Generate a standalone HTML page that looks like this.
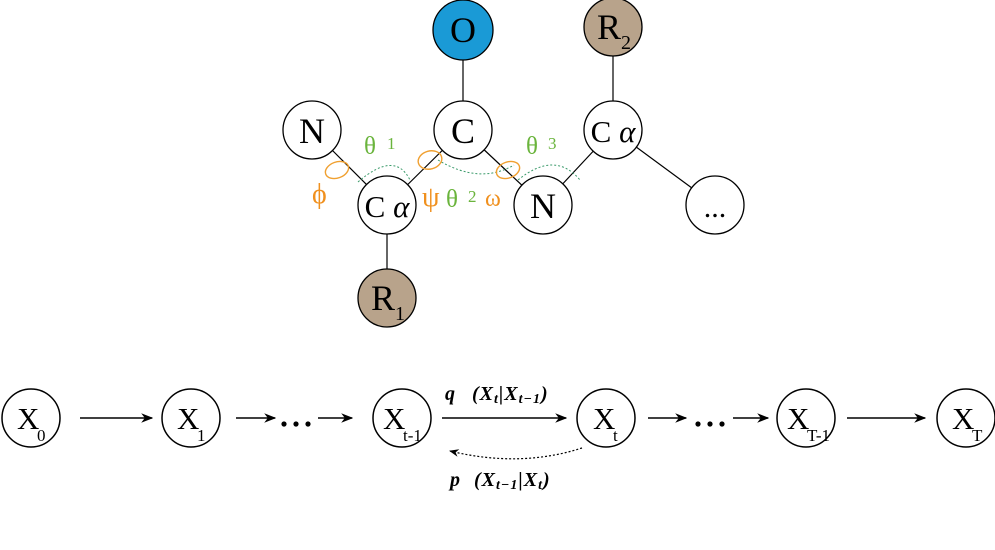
<!DOCTYPE html>
<html><head><meta charset="utf-8"><style>
html,body{margin:0;padding:0;background:#fff;}
svg{display:block;}
text{font-family:"Liberation Serif",serif;}
</style></head><body>
<svg width="995" height="550" viewBox="0 0 995 550" xmlns="http://www.w3.org/2000/svg">
<defs>
<marker id="ah" viewBox="0 0 10 10" refX="9" refY="5" markerWidth="8" markerHeight="8" orient="auto"><path d="M0,1 L10,5 L0,9 L3,5 z" fill="#000"/></marker>
</defs>
<g stroke="#000" stroke-width="1.2">
<line x1="463" y1="30" x2="463" y2="130"/>
<line x1="312" y1="130" x2="387" y2="205"/>
<line x1="387" y1="205" x2="463" y2="130"/>
<line x1="463" y1="130" x2="543" y2="205"/>
<line x1="543" y1="205" x2="613" y2="130"/>
<line x1="613" y1="27" x2="613" y2="130"/>
<line x1="613" y1="130" x2="715" y2="205"/>
<line x1="387" y1="205" x2="387" y2="298"/>
</g>
<g stroke="#000" stroke-width="1.3" fill="#fff">
<circle cx="463" cy="30" r="30" fill="#1a9ad6"/>
<circle cx="613" cy="27" r="29" fill="#b8a38b"/>
<circle cx="387" cy="298" r="29" fill="#b8a38b"/>
<circle cx="463" cy="130" r="29"/>
<circle cx="312" cy="130" r="29"/>
<circle cx="387" cy="205" r="29"/>
<circle cx="543" cy="205" r="29"/>
<circle cx="613" cy="130" r="29"/>
<circle cx="715" cy="205" r="29"/>
</g>
<g font-size="36" text-anchor="middle">
<text x="463" y="42">O</text>
<text x="463" y="143">C</text>
<text x="312" y="143">N</text>
<text x="543" y="218">N</text>
<text x="609" y="39">R</text><text x="626" y="49" font-size="20">2</text>
<text x="383" y="310">R</text><text x="400" y="320" font-size="20">1</text>
<text x="387" y="217" font-size="31">C <tspan font-style="italic">α</tspan></text>
<text x="613" y="142" font-size="31">C <tspan font-style="italic">α</tspan></text>
<text x="715" y="217" font-size="30">...</text>
</g>
<g fill="none" stroke="#3a9a6a" stroke-width="1" stroke-dasharray="2,2">
<path d="M358,182 Q395,150 410,180"/>
<path d="M438,160 Q480,185 514,165"/>
<path d="M518,180 Q555,150 580,180"/>
</g>
<g fill="none" stroke="#f0a030" stroke-width="1.4">
<ellipse cx="337" cy="170" rx="12" ry="8" transform="rotate(-20 337 170)"/>
<ellipse cx="430" cy="160" rx="12" ry="9" transform="rotate(-15 430 160)"/>
<ellipse cx="508" cy="170" rx="12" ry="8" transform="rotate(-20 508 170)"/>
</g>
<g font-family="DejaVu Sans,sans-serif">
<text x="312" y="203" fill="#f0901e" font-size="28">ϕ</text>
<text x="422" y="206" fill="#f0901e" font-size="28">ψ</text>
<text x="485" y="206" fill="#f0901e" font-size="24">ω</text>
<text x="364" y="154" fill="#6ab43c" font-size="25">θ</text><text x="387" y="149" fill="#6ab43c" font-size="17">1</text>
<text x="446" y="207" fill="#6ab43c" font-size="25">θ</text><text x="468" y="202" fill="#6ab43c" font-size="17">2</text>
<text x="526" y="154" fill="#6ab43c" font-size="25">θ</text><text x="548" y="149" fill="#6ab43c" font-size="17">3</text>
</g>
<g stroke="#000" stroke-width="1.5" fill="#fff">
<circle cx="31" cy="418" r="29"/>
<circle cx="191" cy="418" r="29"/>
<circle cx="402" cy="418" r="29"/>
<circle cx="606" cy="418" r="29"/>
<circle cx="806" cy="418" r="29"/>
<circle cx="966" cy="418" r="29"/>
</g>
<g font-size="31">
<text x="17" y="429">X</text><text x="37" y="441" font-size="17">0</text>
<text x="177" y="429">X</text><text x="197" y="441" font-size="17">1</text>
<text x="383" y="429">X</text><text x="403" y="441" font-size="17">t-1</text>
<text x="593" y="429">X</text><text x="613" y="441" font-size="17">t</text>
<text x="787" y="429">X</text><text x="807" y="441" font-size="17">T-1</text>
<text x="952" y="429">X</text><text x="972" y="441" font-size="17">T</text>
</g>
<g stroke="#000" stroke-width="1.5" marker-end="url(#ah)">
<line x1="80" y1="418" x2="152" y2="418"/>
<line x1="236" y1="418" x2="275" y2="418"/>
<line x1="318" y1="418" x2="352" y2="418"/>
<line x1="442" y1="418" x2="566" y2="418"/>
<line x1="648" y1="418" x2="686" y2="418"/>
<line x1="733" y1="418" x2="768" y2="418"/>
<line x1="847" y1="418" x2="925" y2="418"/>
</g>
<g fill="#000">
<circle cx="284" cy="424" r="2.6"/><circle cx="296" cy="424" r="2.6"/><circle cx="308" cy="424" r="2.6"/>
<circle cx="698" cy="424" r="2.6"/><circle cx="710" cy="424" r="2.6"/><circle cx="722" cy="424" r="2.6"/>
</g>
<path d="M582,448 Q520,468 450,451" fill="none" stroke="#000" stroke-width="1.2" stroke-dasharray="2,2" marker-end="url(#ah)"/>
<g font-size="20" font-style="italic" font-weight="bold">
<text x="445" y="400">q</text>
<text x="472" y="400" letter-spacing="1">(X<tspan font-size="14" dy="3">t</tspan><tspan dy="-3">|X</tspan><tspan font-size="14" dy="3">t−1</tspan><tspan dy="-3">)</tspan></text>
<text x="450" y="486">p</text>
<text x="474" y="486" letter-spacing="1">(X<tspan font-size="14" dy="3">t−1</tspan><tspan dy="-3">|X</tspan><tspan font-size="14" dy="3">t</tspan><tspan dy="-3">)</tspan></text>
</g>
</svg>
</body></html>
